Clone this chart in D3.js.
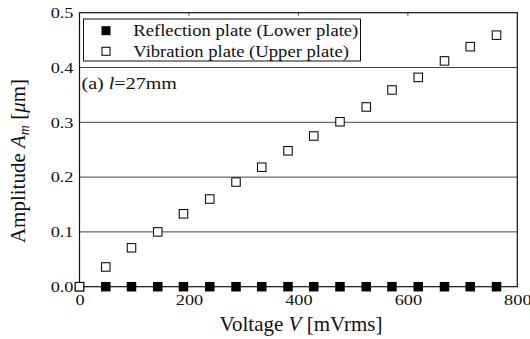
<!DOCTYPE html>
<html>
<head>
<meta charset="utf-8">
<script src="https://cdn.jsdelivr.net/npm/d3@7"></script>
<style>
  body { margin: 0; background: #fff; }
</style>
</head>
<body>
<div id="chart"></div>
<script>
// voltage steps (mVrms) and measured amplitudes (um)
const voltage = [0, 48, 95, 143, 190, 238, 286, 333, 381, 428, 476, 524, 571, 619, 667, 714, 762];
const vibration = [0, 0.036, 0.071, 0.100, 0.133, 0.160, 0.191, 0.218, 0.248, 0.275, 0.301, 0.328, 0.359, 0.382, 0.412, 0.438, 0.459];
const reflection = [0, 0, 0, 0, 0, 0, 0, 0, 0, 0, 0, 0, 0, 0, 0, 0, 0];
const xTicks = [0, 200, 400, 600, 800];
const yTicks = [0, 0.1, 0.2, 0.3, 0.4, 0.5];
const legendLabels = ["Reflection plate (Lower plate)", "Vibration plate (Upper plate)"];

const FONT = "Liberation Serif";
const width = 530, height = 339;
const margin = {left: 79.5, right: 12.7, top: 12.7, bottom: 52.3};

const svg = d3.select("#chart")
  .append("svg")
  .attr("width", width)
  .attr("height", height)
  .attr("font-family", FONT);

const x = d3.scaleLinear()
  .domain([0, 800])
  .range([margin.left, width - margin.right]);

const y = d3.scaleLinear()
  .domain([0, 0.5])
  .range([height - margin.bottom, margin.top]);

// the source figure has its small text stretched sideways a bit
function stretch(sel, k) {
  sel.each(function() {
    const w = this.getComputedTextLength();
    d3.select(this).attr("textLength", w * k).attr("lengthAdjust", "spacingAndGlyphs");
  });
}

// horizontal grid
svg.append("g")
  .selectAll("line")
  .data(yTicks.slice(1, -1))
  .enter()
  .append("line")
  .attr("x1", x(0))
  .attr("x2", x(800))
  .attr("y1", d => y(d))
  .attr("y2", d => y(d))
  .attr("stroke", "#444")
  .attr("stroke-width", 1);

// small inside ticks on top
svg.append("g")
  .selectAll("line")
  .data(xTicks.slice(1, -1))
  .enter()
  .append("line")
  .attr("x1", d => x(d))
  .attr("x2", d => x(d))
  .attr("y1", y(0.5))
  .attr("y2", y(0.5) + 3)
  .attr("stroke", "#444");

// frame
svg.append("rect")
  .attr("x", x(0))
  .attr("y", y(0.5))
  .attr("width", x(800) - x(0))
  .attr("height", y(0) - y(0.5))
  .attr("fill", "none")
  .attr("stroke", "#111")
  .attr("stroke-width", 1.2);

// tick labels
const xAxis = svg.append("g")
  .attr("transform", `translate(0,${y(0)})`)
  .call(d3.axisBottom(x).tickValues(xTicks).tickSize(0).tickPadding(8).tickFormat(d3.format("d")));
xAxis.attr("font-family", FONT).attr("font-size", 15);
xAxis.select(".domain").remove();
xAxis.selectAll("text").attr("fill", "#111").call(stretch, 1.22);

const yAxis = svg.append("g")
  .attr("transform", `translate(${x(0)},0)`)
  .call(d3.axisLeft(y).tickValues(yTicks).tickSize(0).tickPadding(6).tickFormat(d3.format(".1f")));
yAxis.attr("font-family", FONT).attr("font-size", 15);
yAxis.select(".domain").remove();
yAxis.selectAll("text").attr("fill", "#111").call(stretch, 1.22);

// markers
const size = 9.5;
svg.append("g")
  .selectAll("rect")
  .data(voltage.map((v, i) => [v, reflection[i]]))
  .enter()
  .append("rect")
  .attr("x", d => x(d[0]) - size / 2)
  .attr("y", d => y(d[1]) - size / 2)
  .attr("width", size)
  .attr("height", size)
  .attr("fill", "#000");

svg.append("g")
  .selectAll("rect")
  .data(voltage.map((v, i) => [v, vibration[i]]))
  .enter()
  .append("rect")
  .attr("x", d => x(d[0]) - (size - 1) / 2)
  .attr("y", d => y(d[1]) - (size - 1) / 2)
  .attr("width", size - 1)
  .attr("height", size - 1)
  .attr("fill", "#fff")
  .attr("stroke", "#111")
  .attr("stroke-width", 1.1);

// legend
const legend = svg.append("g");
legend.append("rect")
  .attr("x", 83.5)
  .attr("y", 19)
  .attr("width", 277)
  .attr("height", 42)
  .attr("fill", "#fff")
  .attr("stroke", "#111")
  .attr("stroke-width", 1);

const legendTexts = [];
legendLabels.forEach((lab, i) => {
  const cy = 30.7 + i * 20.6;
  if (i === 0) {
    legend.append("rect").attr("x", 101.5).attr("y", cy - 4.5).attr("width", 9).attr("height", 9).attr("fill", "#000");
  } else {
    legend.append("rect").attr("x", 102).attr("y", cy - 4).attr("width", 8).attr("height", 8)
      .attr("fill", "#fff").attr("stroke", "#111").attr("stroke-width", 1.1);
  }
  legendTexts.push(legend.append("text")
    .attr("x", 133.3)
    .attr("y", cy + 5.5)
    .attr("font-size", 16.5)
    .attr("fill", "#111")
    .text(lab));
});
// first label spans about 225px in the source; same factor for both
const legendK = 225 / legendTexts[0].node().getComputedTextLength();
legendTexts.forEach(t => t.call(stretch, legendK));

// panel label
const panel = svg.append("text").attr("x", 81.5).attr("y", 89).attr("font-size", 17).attr("fill", "#111");
panel.append("tspan").text("(a) ");
panel.append("tspan").attr("font-style", "italic").text("l");
panel.append("tspan").text("=27mm");
panel.call(stretch, 1.18);

// axis titles
const xt = svg.append("text")
  .attr("x", 301)
  .attr("y", 330.5)
  .attr("text-anchor", "middle")
  .attr("font-size", 21)
  .attr("fill", "#111");
xt.append("tspan").text("Voltage ");
xt.append("tspan").attr("font-style", "italic").text("V");
xt.append("tspan").text(" [mVrms]");

const yt = svg.append("text")
  .attr("transform", "translate(24.5,161) rotate(-90)")
  .attr("text-anchor", "middle")
  .attr("font-size", 21)
  .attr("fill", "#111");
yt.append("tspan").text("Amplitude ");
yt.append("tspan").attr("font-style", "italic").text("A");
yt.append("tspan").attr("font-style", "italic").attr("font-size", 14).attr("dy", 4).text("m");
yt.append("tspan").attr("dy", -4).text(" [");
yt.append("tspan").attr("font-style", "italic").text("μ");
yt.append("tspan").text("m]");
</script>
</body>
</html>
